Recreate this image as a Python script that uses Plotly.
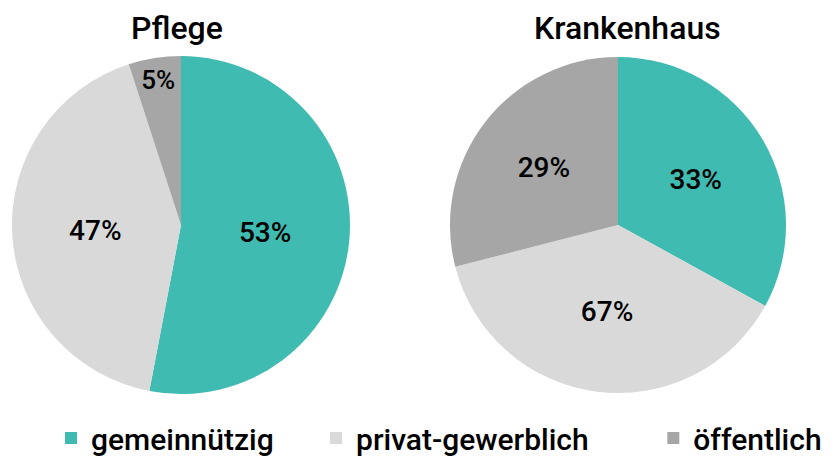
import plotly.graph_objects as go

categories = ["gemeinnützig", "privat-gewerblich", "öffentlich"]
colors = ["#40BBB1", "#D9D9D9", "#A6A6A6"]

pflege_values = [53, 42, 5]
pflege_labels = ["53%", "47%", "5%"]

kh_values = [33, 38, 29]
kh_labels = ["33%", "67%", "29%"]

FONT = "Roboto"
OFF = 8  # page body margin
W, H = 836 - OFF, 457 - OFF

# trailing no-break spaces widen the gap between legend entries
legend_pad = ["\u00a0" * 5, "\u00a0" * 8, ""]
legend_names = [c + p for c, p in zip(categories, legend_pad)]


def px(x):
    return (x - OFF) / W


def py(y):
    return 1 - (y - OFF) / H


fig = go.Figure()
fig.add_trace(go.Pie(
    labels=legend_names, values=pflege_values, text=pflege_labels,
    textinfo="text", textposition="inside", insidetextorientation="horizontal",
    sort=False, direction="clockwise", rotation=0,
    marker=dict(colors=colors, line=dict(width=0)),
    textfont=dict(family=FONT, size=28, color="black", weight=500),
    domain=dict(x=[px(12), px(350)], y=[py(394), py(56)]),
    showlegend=True, hoverinfo="label+percent",
))
fig.add_trace(go.Pie(
    labels=legend_names, values=kh_values, text=kh_labels,
    textinfo="text", textposition="inside", insidetextorientation="horizontal",
    sort=False, direction="clockwise", rotation=0,
    marker=dict(colors=colors, line=dict(width=0)),
    textfont=dict(family=FONT, size=28, color="black", weight=500),
    domain=dict(x=[px(450), px(786)], y=[py(393), py(57)]),
    showlegend=False, hoverinfo="label+percent",
))

fig.add_annotation(text="Pflege", x=px(177), y=1, xref="paper", yref="paper",
                   showarrow=False, font=dict(family=FONT, size=32, color="black", weight=500),
                   xanchor="center", yanchor="top", borderpad=0)
fig.add_annotation(text="Krankenhaus", x=px(627), y=1, xref="paper", yref="paper",
                   showarrow=False, font=dict(family=FONT, size=32, color="black", weight=500),
                   xanchor="center", yanchor="top", borderpad=0)

fig.update_layout(
    width=W, height=H,
    margin=dict(l=0, r=0, t=0, b=0, autoexpand=False),
    paper_bgcolor="white", plot_bgcolor="white",
    legend=dict(orientation="h", x=px(51), xanchor="left", y=py(438), yanchor="middle",
                font=dict(family=FONT, size=30, color="black", weight=500),
                itemclick=False, itemdoubleclick=False, tracegroupgap=0),
)

fig.write_html("out.html")
